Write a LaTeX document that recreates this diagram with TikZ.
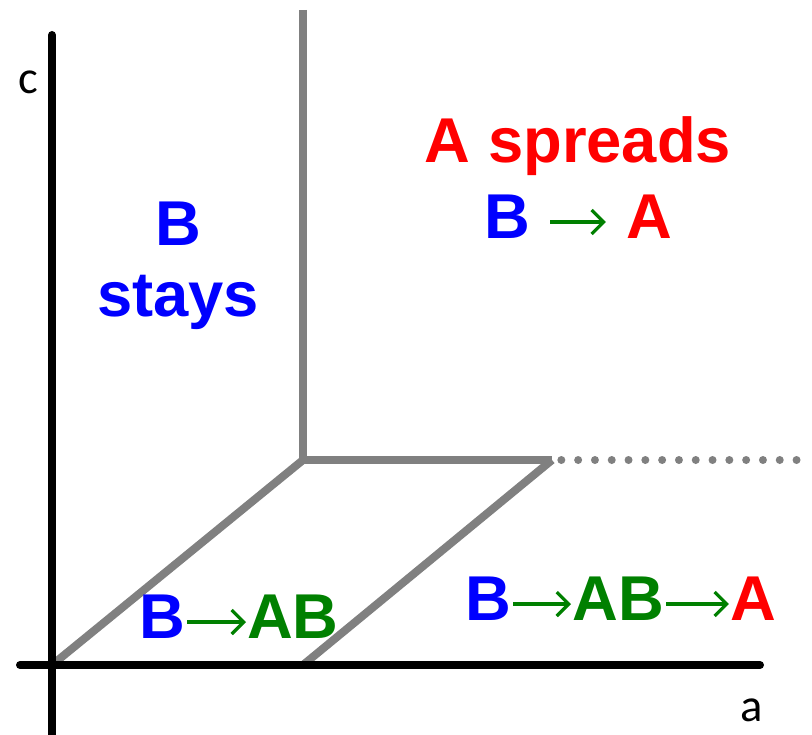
\documentclass[tikz,border=0pt]{standalone}
\usepackage{fontspec}
\setmainfont{Liberation Sans}
\newfontfamily\labfont{Carlito}
\usetikzlibrary{arrows.meta,calc}
\definecolor{lg}{HTML}{808080}
\definecolor{tb}{HTML}{0000FF}
\definecolor{tr}{HTML}{FF0000}
\definecolor{tg}{HTML}{008000}
\begin{document}
\begin{tikzpicture}[x=0.75pt,y=-0.75pt,
  axis/.style={line width=6pt,black,line cap=round},
  grayline/.style={line width=6pt,lg},
  big/.style={font=\fontsize{47.5}{50}\selectfont\bfseries,anchor=base,inner sep=0pt},
  lab/.style={font=\labfont\fontsize{35}{36}\selectfont,inner sep=0pt},
  garr/.style={tg,line width=2.4pt,-{Straight Barb[length=9pt,width=18pt,line width=2.4pt]}}]
\useasboundingbox (0,0) rectangle (812,734);
\coordinate (O) at (52,665);
\coordinate (ytop) at (52,35);
\coordinate (ybot) at (52,740);
\coordinate (xl) at (20,665);
\coordinate (xr) at (760,665);
\coordinate (Vtop) at (303,10);
\coordinate (C1) at (303,460);
\coordinate (C2) at (552,460);
\coordinate (B2) at (303,665);
\coordinate (D) at (812,460);
% gray lines
\draw[grayline,line join=miter] (Vtop) -- (C1) -- (C2);
\draw[grayline] (O) -- (C1);
\draw[grayline] (B2) -- (C2);
\draw[lg,line width=6pt,line cap=round,dash pattern=on 0pt off 12.6pt] ([xshift=7pt]C2) -- (D);
% axes
\draw[axis] (ytop) -- (ybot);
\draw[axis] (xl) -- (xr);
\node[lab] (c) at (28,82) {c};
\node[lab] (a) at (752,710) {a};
% top right
\node[big,tr] (t1) at (578,163) {A spreads};
\node[big,tb] (b2) at (507,238) {B};
\node[big,tr] (a2) at (649,238) {A};
\draw[garr] ($(b2.base east)+(20,-16)$) -- ($(a2.base west)+(-20,-16)$);
% left
\node[big,tb] (t3) at (178,245) {B};
\node[big,tb] (t4) at (178,316) {stays};
% bottom middle
\node[big,tb] (b5) at (162,638) {B};
\node[big,tg] (ab5) at (293,638) {AB};
\draw[garr] ($(b5.base east)+(2,-16)$) -- ($(ab5.base west)+(-1,-16)$);
% bottom right
\node[big,tb] (b6) at (488,620) {B};
\node[big,tg] (ab6) at (618,620) {AB};
\node[big,tr] (a6) at (753,620) {A};
\draw[garr] ($(b6.base east)+(2,-16)$) -- ($(ab6.base west)+(-1,-16)$);
\draw[garr] ($(ab6.base east)+(2,-16)$) -- ($(a6.base west)+(-1,-16)$);
\end{tikzpicture}
\end{document}
